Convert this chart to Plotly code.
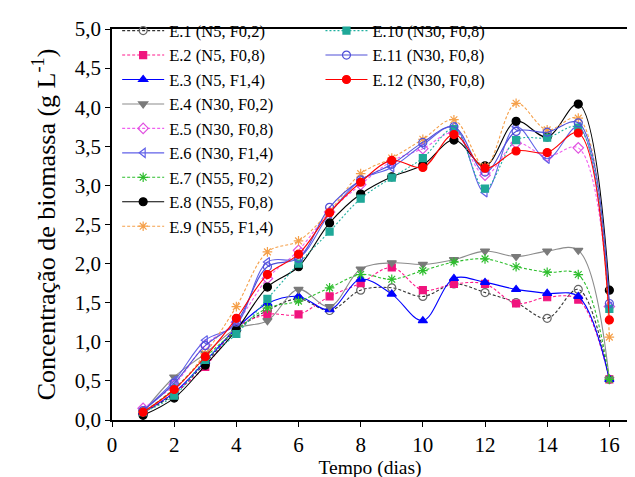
import plotly.graph_objects as go

days = list(range(1, 17))

names = ["E.1 (N5, F0,2)", "E.2 (N5, F0,8)", "E.3 (N5, F1,4)", "E.4 (N30, F0,2)",
         "E.5 (N30, F0,8)", "E.6 (N30, F1,4)", "E.7 (N55, F0,2)", "E.8 (N55, F0,8)",
         "E.9 (N55, F1,4)", "E.10 (N30, F0,8)", "E.11 (N30, F0,8)", "E.12 (N30, F0,8)"]

e1 = [0.10, 0.33, 0.73, 1.15, 1.40, 1.55, 1.40, 1.66, 1.69, 1.58, 1.74, 1.63, 1.50, 1.30, 1.67, 0.52]
e2 = [0.10, 0.35, 0.68, 1.18, 1.35, 1.35, 1.58, 1.75, 1.95, 1.66, 1.74, 1.74, 1.49, 1.57, 1.54, 0.52]
e3 = [0.10, 0.35, 0.75, 1.17, 1.49, 1.58, 1.41, 1.80, 1.61, 1.27, 1.81, 1.76, 1.67, 1.62, 1.58, 0.52]
e4 = [0.10, 0.55, 0.85, 1.17, 1.27, 1.67, 1.45, 1.93, 2.01, 1.99, 2.05, 2.16, 2.09, 2.16, 2.17, 0.52]
e5 = [0.15, 0.45, 0.96, 1.25, 1.81, 2.17, 2.66, 3.01, 3.31, 3.47, 3.67, 3.13, 3.54, 3.37, 3.48, 1.45]
e6 = [0.12, 0.50, 1.02, 1.22, 2.02, 2.07, 2.64, 3.07, 3.23, 3.52, 3.75, 2.91, 3.75, 3.34, 3.75, 1.45]
e7 = [0.10, 0.40, 0.80, 1.15, 1.43, 1.52, 1.69, 1.86, 1.80, 1.91, 2.02, 2.06, 1.96, 1.89, 1.86, 0.52]
e8 = [0.06, 0.28, 0.70, 1.15, 1.70, 1.96, 2.52, 2.89, 3.11, 3.26, 3.58, 3.25, 3.82, 3.62, 4.04, 1.66]
e9 = [0.10, 0.38, 0.85, 1.45, 2.15, 2.29, 2.67, 3.15, 3.35, 3.59, 3.84, 3.24, 4.05, 3.71, 3.86, 1.06]
e10 = [0.10, 0.31, 0.77, 1.10, 1.55, 2.00, 2.41, 2.83, 3.10, 3.35, 3.72, 2.96, 3.58, 3.61, 3.74, 1.42]
e11 = [0.12, 0.47, 0.95, 1.25, 1.96, 2.07, 2.72, 3.07, 3.27, 3.55, 3.75, 3.17, 3.69, 3.68, 3.80, 1.49]
e12 = [0.10, 0.39, 0.81, 1.30, 1.86, 2.12, 2.65, 3.04, 3.32, 3.23, 3.65, 3.22, 3.44, 3.42, 3.67, 1.28]

series = [e1, e2, e3, e4, e5, e6, e7, e8, e9, e10, e11, e12]

line_colors = ["#333333", "#FF1A8C", "#0000FF", "#8C8C8C", "#F060F0", "#6060E8",
               "#2DBE2D", "#000000", "#F5A04A", "#20B0A0", "#5050D8", "#FF0000"]
marker_colors = ["#666666", "#F0147E", "#0000FF", "#7A7A7A", "#E050E0", "#6060E8",
                 "#2DBE2D", "#000000", "#F5A04A", "#1FA898", "#5050D8", "#FF0000"]
symbols = ["circle-open", "square", "triangle-up", "triangle-down", "diamond-open",
           "triangle-left-open", "asterisk-open", "circle", "asterisk-open", "square",
           "circle-open", "circle"]
dashes = ["3px,2px", "3px,2px", "solid", "solid", "3px,2px", "solid",
          "3px,2px", "solid", "3px,2px", "2px,2px", "solid", "solid"]
sizes = [8, 7, 8, 8, 8, 8, 8, 8, 8, 7, 8, 8]

fig = go.Figure()
for i, (nm, ys) in enumerate(zip(names, series)):
    fig.add_trace(go.Scatter(
        x=days, y=ys, name=nm, mode="lines+markers",
        line=dict(color=line_colors[i], width=1.1, dash=dashes[i], shape="spline", smoothing=1.0),
        marker=dict(symbol=symbols[i], size=sizes[i], color=marker_colors[i],
                    line=dict(color=marker_colors[i], width=1.2)),
        legend="legend" if i < 9 else "legend2",
    ))

font_family = "Liberation Serif"

fig.update_layout(
    width=635, height=477,
    margin=dict(l=104, r=15, t=21, b=65, autoexpand=False),
    paper_bgcolor="white", plot_bgcolor="white",
    separators=",.",
    font=dict(family=font_family, color="black", size=18),
    legend=dict(x=0.010, y=1.04, xanchor="left", yanchor="top",
                font=dict(size=16.5, family=font_family), bgcolor="rgba(0,0,0,0)",
                itemwidth=42, tracegroupgap=0, maxheight=420),
    legend2=dict(x=0.404, y=1.04, xanchor="left", yanchor="top",
                 font=dict(size=16.5, family=font_family), bgcolor="rgba(0,0,0,0)",
                 itemwidth=42, tracegroupgap=0, maxheight=420),
    showlegend=True,
)

fig.update_xaxes(
    range=[0, 16.6], tickmode="linear", tick0=0, dtick=2,
    showgrid=False, zeroline=False, automargin=True,
    showline=True, linecolor="black", linewidth=1.5, mirror=True,
    ticks="outside", ticklen=5, tickwidth=1.3, tickcolor="black",
    tickfont=dict(size=21, family=font_family),
    title=dict(text="Tempo (dias)", font=dict(size=19.5, family=font_family), standoff=1),
)
fig.update_yaxes(
    range=[0, 5], tickmode="linear", tick0=0, dtick=0.5, tickformat=".1f",
    showgrid=False, zeroline=False, automargin=False,
    showline=True, linecolor="black", linewidth=1.5, mirror=True,
    ticks="outside", ticklen=5, tickwidth=1.3, tickcolor="black",
    tickfont=dict(size=21, family=font_family),
    title=dict(text="Concentração de biomassa (g L<sup>-1</sup>)",
               font=dict(size=26, family=font_family), standoff=12),
)

fig.write_html("out.html")
